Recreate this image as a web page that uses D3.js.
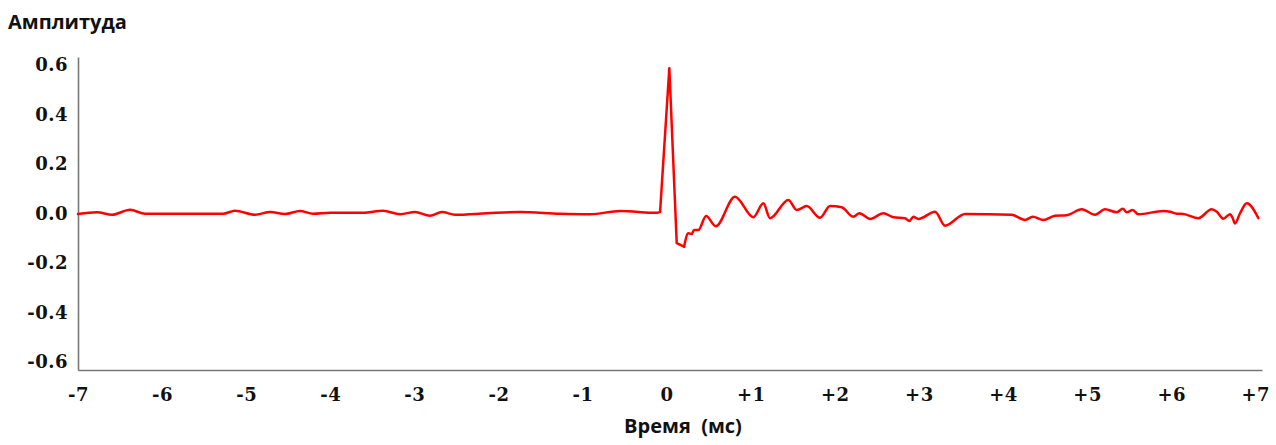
<!DOCTYPE html>
<html>
<head>
<meta charset="utf-8">
<script src="https://cdn.jsdelivr.net/npm/d3@7"></script>
<style>
  body { margin: 0; background: #fff; }
  .tick-label { font-family: "DejaVu Serif", serif; font-weight: bold; font-size: 18px; letter-spacing: 0.5px; fill: #111; }
  .title { font-family: "Open Sans", sans-serif; font-weight: bold; font-size: 20px; fill: #111; }
</style>
</head>
<body>
<svg width="1276" height="445"></svg>
<script>
// time in ms
const times = [
  -7.0, -6.774, -6.595, -6.381, -6.203, -5.275, -5.133, -4.895, -4.716, -4.538,
  -4.36, -4.205, -4.003, -3.61, -3.373, -3.17, -2.992, -2.814, -2.671, -2.516,
  -2.136, -1.743, -1.268, -0.911, -0.554, -0.114, -0.078, 0.032, 0.12, 0.207,
  0.258, 0.298, 0.326, 0.377, 0.469, 0.584, 0.813, 1.031, 1.15, 1.23,
  1.447, 1.547, 1.666, 1.824, 1.943, 2.082, 2.22, 2.292, 2.419, 2.577,
  2.696, 2.835, 2.886, 2.934, 2.993, 3.192, 3.311, 3.549, 4.104, 4.262,
  4.354, 4.48, 4.619, 4.758, 4.936, 5.095, 5.213, 5.353, 5.424, 5.472,
  5.543, 5.609, 5.907, 5.986, 6.066, 6.145, 6.323, 6.482, 6.542, 6.62,
  6.7, 6.732, 6.759, 6.819, 6.899, 7.037
];
const amplitude = [
  -0.006, 0.001, -0.009, 0.011, -0.005, -0.005, 0.007, -0.009, 0.002, -0.006,
  0.006, -0.005, -0.001, -0.001, 0.007, -0.007, 0.002, -0.013, 0.002, -0.009,
  -0.003, 0.002, -0.005, -0.007, 0.006, -0.001, 0.003, 0.583, -0.124, -0.138,
  -0.084, -0.087, -0.071, -0.071, -0.014, -0.055, 0.064, -0.019, 0.037, -0.023,
  0.051, 0.01, 0.026, -0.021, 0.026, 0.021, -0.017, -0.003, -0.026, -0.003,
  -0.019, -0.023, -0.034, -0.017, -0.026, 0.003, -0.053, -0.006, -0.009, -0.03,
  -0.017, -0.03, -0.013, -0.011, 0.013, -0.009, 0.013, 0.001, 0.015, 0.001,
  0.01, -0.007, 0.006, 0.003, -0.005, -0.006, -0.023, 0.013, 0.003, -0.025,
  -0.007, -0.023, -0.044, -0.003, 0.037, -0.023
];

const xTicks = [-7, -6, -5, -4, -3, -2, -1, 0, 1, 2, 3, 4, 5, 6, 7];
const xTickLabels = ["-7", "-6", "-5", "-4", "-3", "-2", "-1", "0", "+1", "+2", "+3", "+4", "+5", "+6", "+7"];
const yTicks = [0.6, 0.4, 0.2, 0.0, -0.2, -0.4, -0.6];
const yTickLabels = ["0.6", "0.4", "0.2", "0.0", "-0.2", "-0.4", "-0.6"];

const svg = d3.select("svg");

const x = d3.scaleLinear().domain([-7, 7.08]).range([78, 1262]);
const y = d3.scaleLinear().domain([-0.636, 0.628]).range([370, 57]);

const data = times.map((t, i) => ({ t: t, v: amplitude[i] }));

// axes
const xAxis = svg.append("g")
  .attr("transform", `translate(0,${y.range()[0]})`)
  .call(d3.axisBottom(x).tickValues(xTicks).tickSize(0)
    .tickFormat((d, i) => xTickLabels[i]));
xAxis.select(".domain").attr("stroke", "#777").attr("stroke-width", 1.6);
xAxis.selectAll(".tick text")
  .attr("class", "tick-label")
  .attr("font-family", null).attr("font-size", null)
  .attr("y", 31).attr("dy", 0);

const yAxis = svg.append("g")
  .attr("transform", `translate(${x.range()[0]},0)`)
  .call(d3.axisLeft(y).tickValues(yTicks).tickSize(0)
    .tickFormat((d, i) => yTickLabels[i]));
yAxis.select(".domain").attr("stroke", "#777").attr("stroke-width", 1.6);
yAxis.selectAll(".tick text")
  .attr("class", "tick-label")
  .attr("font-family", null).attr("font-size", null)
  .attr("x", -10).attr("dy", "0.38em");

// signal: smooth wiggles, sharp spike
const smooth = d3.line().x(d => x(d.t)).y(d => y(d.v)).curve(d3.curveMonotoneX);
const sharp = d3.line().x(d => x(d.t)).y(d => y(d.v));

const spikeStart = times.indexOf(-0.078);
const spikeEnd = times.indexOf(0.207);
const parts = [
  { pts: data.slice(0, spikeStart + 1), gen: smooth },
  { pts: data.slice(spikeStart, spikeEnd + 1), gen: sharp },
  { pts: data.slice(spikeEnd), gen: smooth }
];

svg.append("g")
  .selectAll("path")
  .data(parts)
  .join("path")
  .attr("fill", "none")
  .attr("stroke", "#ff0000")
  .attr("stroke-width", 2.5)
  .attr("stroke-linejoin", "round")
  .attr("stroke-linecap", "round")
  .attr("d", d => d.gen(d.pts));

// titles
svg.append("text")
  .attr("class", "title")
  .attr("x", 8)
  .attr("y", 29)
  .text("Амплитуда");

svg.append("text")
  .attr("class", "title")
  .attr("x", 683)
  .attr("y", 433)
  .attr("text-anchor", "middle")
  .style("white-space", "pre")
  .text("Время  (мс)");
</script>
</body>
</html>
